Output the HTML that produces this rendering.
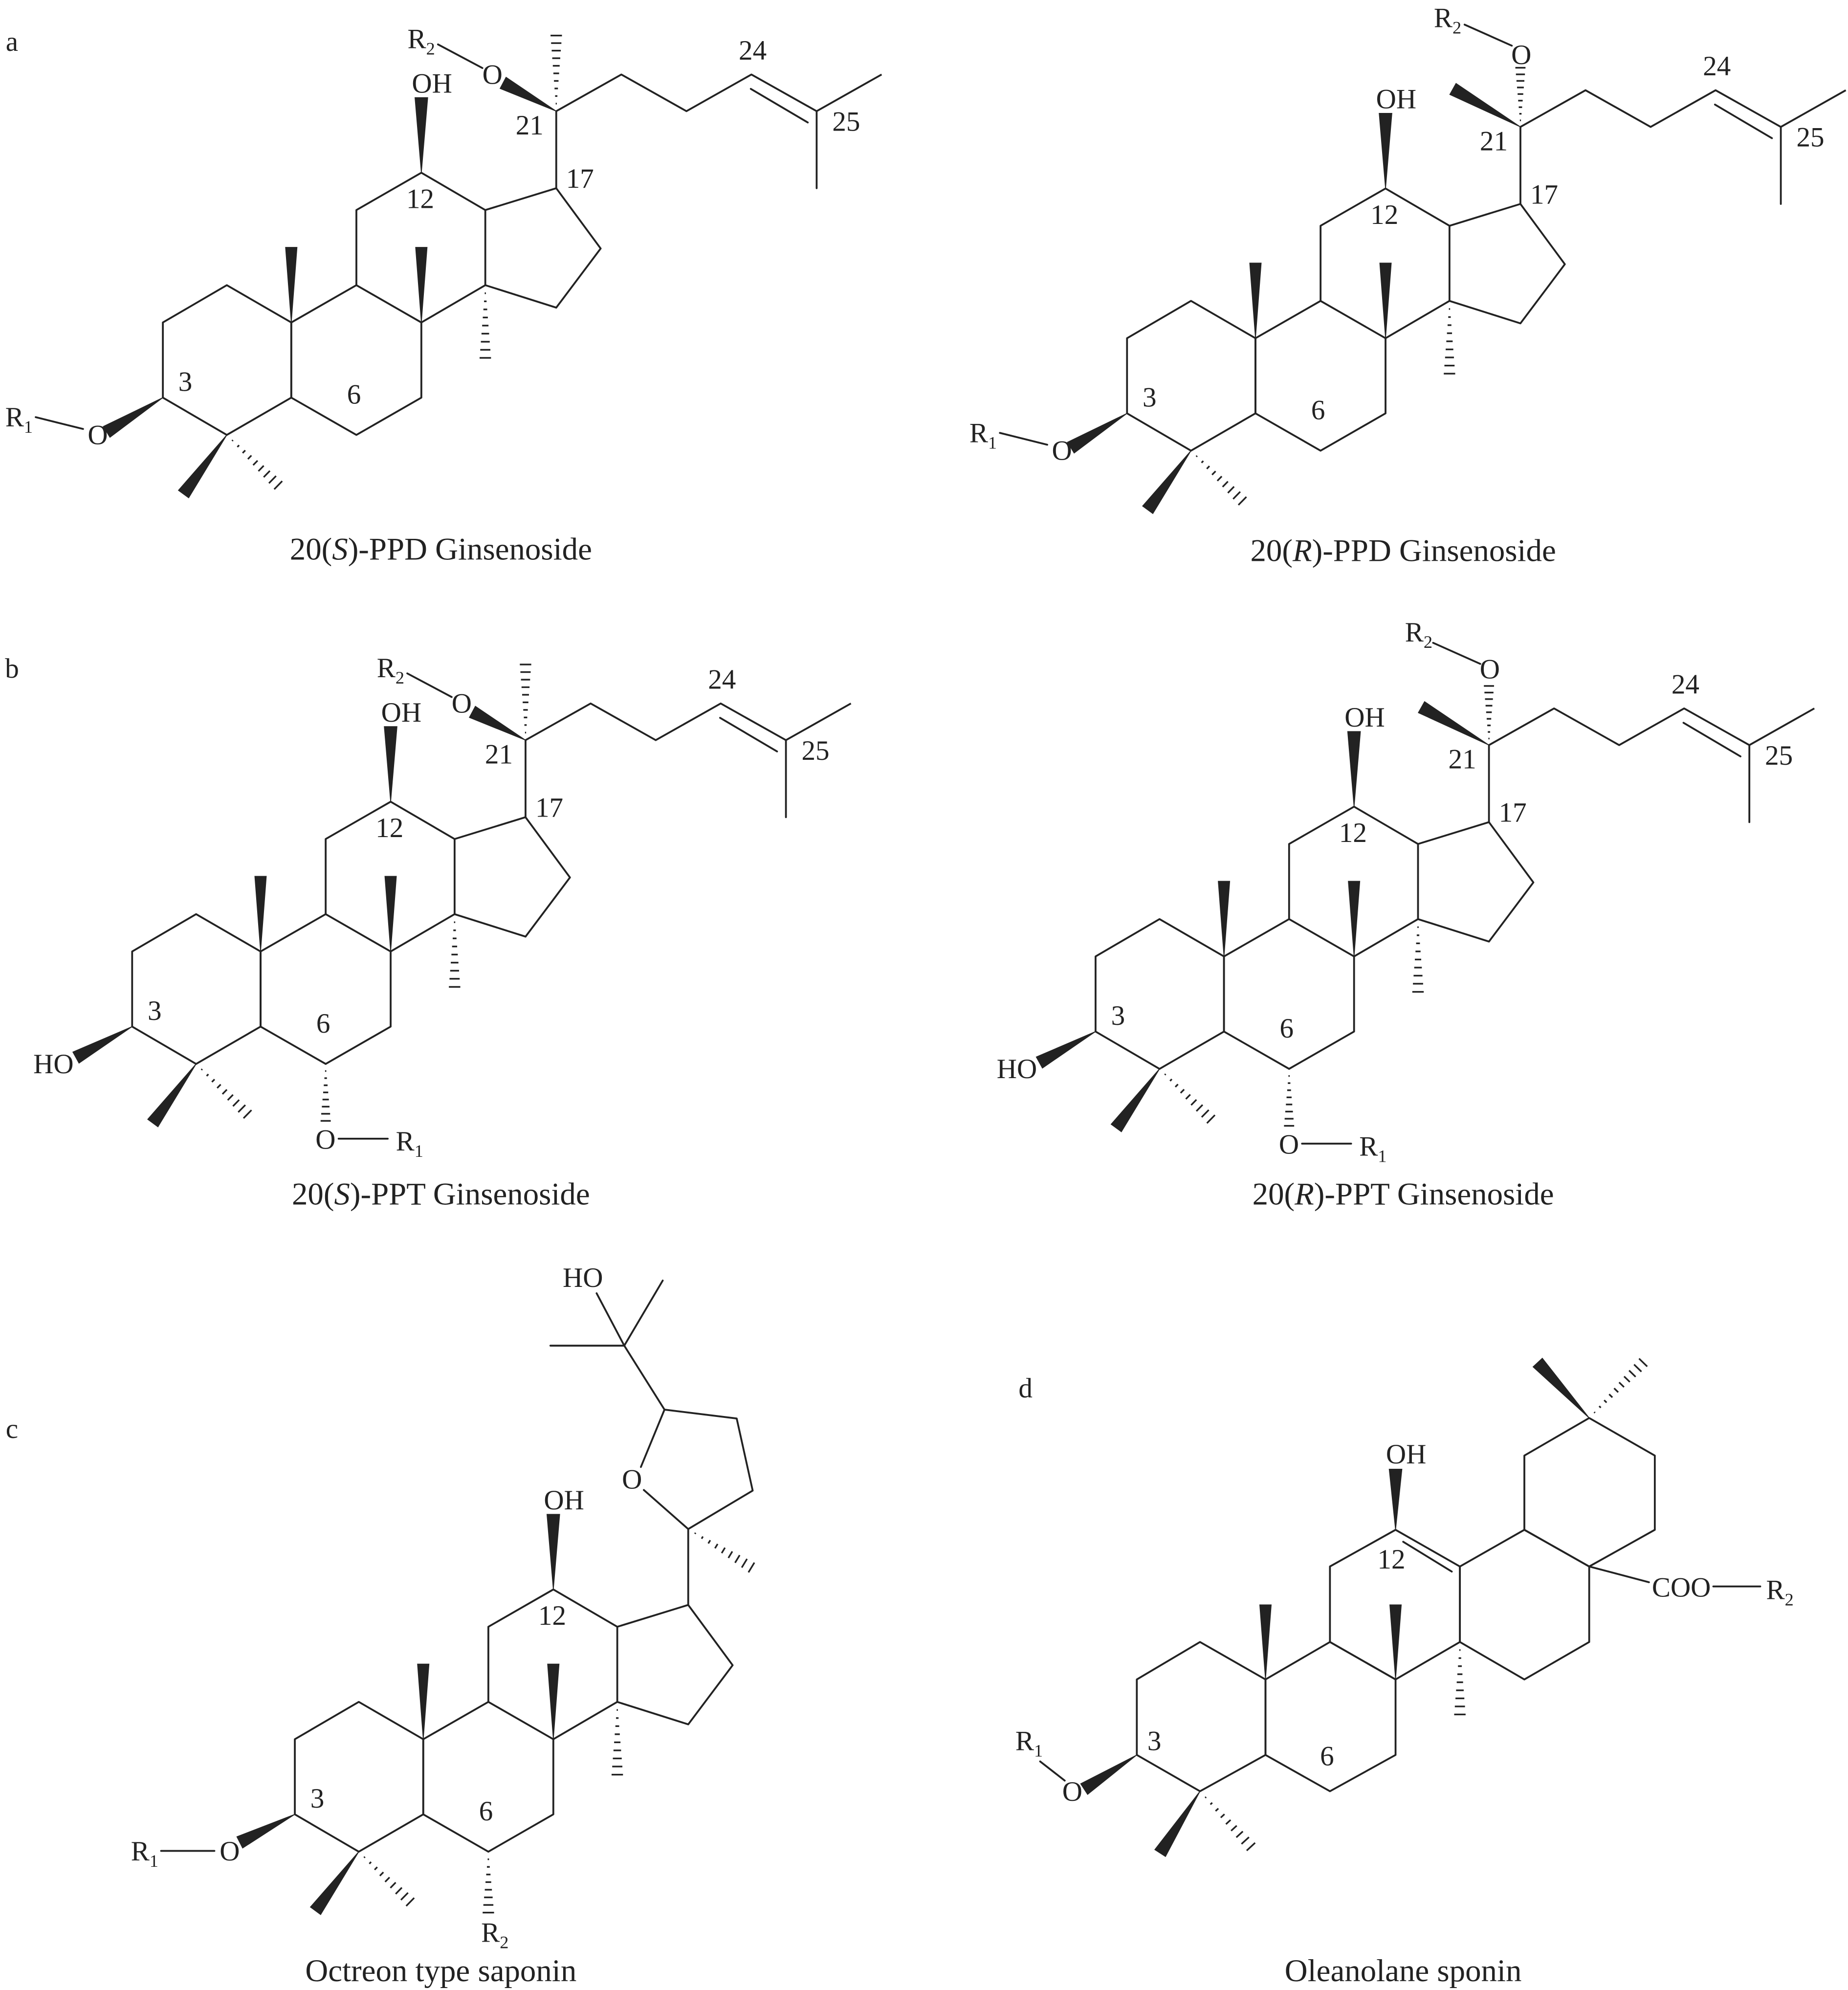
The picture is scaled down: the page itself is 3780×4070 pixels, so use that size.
<!DOCTYPE html>
<html><head><meta charset="utf-8"><style>
html,body{margin:0;padding:0;background:#fff;}
svg{display:block;}
text{font-family:"Liberation Serif","DejaVu Serif",serif;fill:#222;font-size:22px;}
.cap{font-size:25px;}
</style></head><body>
<svg id="s" xmlns="http://www.w3.org/2000/svg" width="3780" height="4070" viewBox="0 0 1456 1568">
<rect width="1456" height="1568" fill="#fff"/>
<!-- letters -->
<text x="9.3" y="40" text-anchor="middle">a</text>
<text x="9.3" y="534" text-anchor="middle">b</text>
<text x="9.3" y="1133" text-anchor="middle">c</text>
<text x="808" y="1101" text-anchor="middle">d</text>
<!-- captions -->
<text class="cap" x="347.3" y="441" text-anchor="middle">20(<tspan font-style="italic">S</tspan>)-PPD Ginsenoside</text>
<text class="cap" x="1105.6" y="442" text-anchor="middle">20(<tspan font-style="italic">R</tspan>)-PPD Ginsenoside</text>
<text class="cap" x="347.3" y="949" text-anchor="middle">20(<tspan font-style="italic">S</tspan>)-PPT Ginsenoside</text>
<text class="cap" x="1105.6" y="949" text-anchor="middle">20(<tspan font-style="italic">R</tspan>)-PPT Ginsenoside</text>
<text class="cap" x="347.3" y="1561" text-anchor="middle">Octreon type saponin</text>
<text class="cap" x="1105.6" y="1561" text-anchor="middle">Oleanolane sponin</text>

<!-- a left -->
<g id="gA" transform="translate(0,0)">
<text x="145.9" y="308" text-anchor="middle">3</text>
<text x="278.8" y="318" text-anchor="middle">6</text>
<text x="331" y="164" text-anchor="middle">12</text>
<text x="456.9" y="148" text-anchor="middle">17</text>
<text x="417.2" y="106" text-anchor="middle">21</text>
<text x="593" y="47" text-anchor="middle">24</text>
<text x="666.7" y="103" text-anchor="middle">25</text>
<text x="340.3" y="73" text-anchor="middle">OH</text>
<text x="387.9" y="66" text-anchor="middle">O</text>
<text x="321" y="38">R<tspan font-size="14" dy="5">2</tspan></text>
<text x="76.9" y="350" text-anchor="middle">O</text>
<text x="4" y="336">R<tspan font-size="14" dy="5">1</tspan></text>
</g>
<!-- a right -->
<g id="gB" transform="translate(759.8,12.4)">
<text x="145.9" y="308" text-anchor="middle">3</text>
<text x="278.8" y="318" text-anchor="middle">6</text>
<text x="331" y="164" text-anchor="middle">12</text>
<text x="456.9" y="148" text-anchor="middle">17</text>
<text x="417.2" y="106" text-anchor="middle">21</text>
<text x="593" y="47" text-anchor="middle">24</text>
<text x="666.7" y="103" text-anchor="middle">25</text>
<text x="340.3" y="73" text-anchor="middle">OH</text>
<text x="438.9" y="38" text-anchor="middle">O</text>
<text x="370" y="9">R<tspan font-size="14" dy="5">2</tspan></text>
<text x="76.9" y="350" text-anchor="middle">O</text>
<text x="4" y="336">R<tspan font-size="14" dy="5">1</tspan></text>
</g>
<!-- b left -->
<g id="gC" transform="translate(-24.2,495.6)">
<text x="145.9" y="308" text-anchor="middle">3</text>
<text x="278.8" y="318" text-anchor="middle">6</text>
<text x="331" y="164" text-anchor="middle">12</text>
<text x="456.9" y="148" text-anchor="middle">17</text>
<text x="417.2" y="106" text-anchor="middle">21</text>
<text x="593" y="47" text-anchor="middle">24</text>
<text x="666.7" y="103" text-anchor="middle">25</text>
<text x="340.3" y="73" text-anchor="middle">OH</text>
<text x="387.9" y="66" text-anchor="middle">O</text>
<text x="321" y="38">R<tspan font-size="14" dy="5">2</tspan></text>
<text x="66.2" y="350" text-anchor="middle">HO</text>
<text x="280.6" y="409.6" text-anchor="middle">O</text>
<text x="336" y="411">R<tspan font-size="14" dy="5">1</tspan></text>
</g>
<!-- b right -->
<g id="gD" transform="translate(735,499.5)">
<text x="145.9" y="308" text-anchor="middle">3</text>
<text x="278.8" y="318" text-anchor="middle">6</text>
<text x="331" y="164" text-anchor="middle">12</text>
<text x="456.9" y="148" text-anchor="middle">17</text>
<text x="417.2" y="106" text-anchor="middle">21</text>
<text x="593" y="47" text-anchor="middle">24</text>
<text x="666.7" y="103" text-anchor="middle">25</text>
<text x="340.3" y="73" text-anchor="middle">OH</text>
<text x="438.9" y="35" text-anchor="middle">O</text>
<text x="372" y="6">R<tspan font-size="14" dy="5">2</tspan></text>
<text x="66.2" y="350" text-anchor="middle">HO</text>
<text x="280.6" y="409.6" text-anchor="middle">O</text>
<text x="336" y="411">R<tspan font-size="14" dy="5">1</tspan></text>
</g>
<!-- c -->
<g id="gE" transform="translate(104,1116.3)">
<text x="145.9" y="308" text-anchor="middle">3</text>
<text x="278.8" y="318" text-anchor="middle">6</text>
<text x="331" y="164" text-anchor="middle">12</text>
<text x="340.3" y="73" text-anchor="middle">OH</text>
</g>
<g id="gF">
<text x="459.2" y="1014" text-anchor="middle">HO</text>
<text x="497.9" y="1173" text-anchor="middle">O</text>
<text x="180.9" y="1466" text-anchor="middle">O</text>
<text x="103" y="1466">R<tspan font-size="14" dy="5">1</tspan></text>
<text x="379" y="1530">R<tspan font-size="14" dy="5">2</tspan></text>
</g>
<!-- d -->
<g id="gG">
<text x="1107.9" y="1153" text-anchor="middle">OH</text>
<text x="1096.3" y="1236" text-anchor="middle">12</text>
<text x="909.5" y="1379" text-anchor="middle">3</text>
<text x="1045.6" y="1391" text-anchor="middle">6</text>
<text x="1301.6" y="1258">COO</text>
<text x="1391.6" y="1260">R<tspan font-size="14" dy="5">2</tspan></text>
<text x="844.9" y="1419" text-anchor="middle">O</text>
<text x="800" y="1379">R<tspan font-size="14" dy="5">1</tspan></text>
</g>
</svg>
<script>
(function(){
var NS='http://www.w3.org/2000/svg';
function E(g,tag,a){var e=document.createElementNS(NS,tag);for(var k in a)e.setAttribute(k,a[k]);g.insertBefore(e,g.firstChild);return e;}
var SW=1.45,COL='#222';
function L(g,a,b){E(g,'line',{x1:a[0],y1:a[1],x2:b[0],y2:b[1],stroke:COL,'stroke-width':SW,'stroke-linecap':'round'});}
function P(g,pts,close){E(g,close?'polygon':'polyline',{points:pts.map(function(p){return p.join(',')}).join(' '),fill:'none',stroke:COL,'stroke-width':SW,'stroke-linejoin':'round'});}
function W(g,a,b,w){w=w||9;var dx=b[0]-a[0],dy=b[1]-a[1],l=Math.hypot(dx,dy),nx=-dy/l*w/2,ny=dx/l*w/2;
E(g,'polygon',{points:[a,[b[0]+nx,b[1]+ny],[b[0]-nx,b[1]-ny]].map(function(p){return p.join(',')}).join(' '),fill:COL,stroke:COL,'stroke-width':0.6});}
function H(g,a,b,w,n){w=w||9;n=n||9;var dx=b[0]-a[0],dy=b[1]-a[1],l=Math.hypot(dx,dy),ux=-dy/l,uy=dx/l;
for(var i=1;i<=n;i++){var t=i/n,h=w/2*t,px=a[0]+dx*t,py=a[1]+dy*t;
E(g,'line',{x1:px+ux*h,y1:py+uy*h,x2:px-ux*h,y2:py-uy*h,stroke:COL,'stroke-width':1.3});}}
function core(g){
P(g,[[128.2,254.1],[178.6,224.7],[229.4,254.1],[229.4,313.3],[178.6,342.7],[128.2,313.3]],true);
P(g,[[229.4,254.1],[280.7,224.7],[331.9,254.1],[331.9,313.3],[280.7,342.7],[229.4,313.3]],true);
P(g,[[280.7,224.7],[280.7,165.5],[331.9,136.1],[382.3,165.5],[382.3,224.7],[331.9,254.1]],false);
P(g,[[382.3,165.5],[438.2,148.3],[473.2,195.8],[438.2,242.4],[382.3,224.7]],false);
W(g,[331.9,136.1],[331.9,76.9],10);
W(g,[229.4,254.1],[229.4,194.9],9);
W(g,[331.9,254.1],[331.9,194.9],9);
W(g,[178.6,342.7],[144.5,389.3],10);
H(g,[382.3,224.7],[382.3,282],9,9);
H(g,[178.6,342.7],[219.1,382.3],9,9);
}
function chain(g){
L(g,[438.2,148.3],[438.2,87.6]);
P(g,[[438.2,87.6],[489.5,58.7],[540.8,87.6],[592,58.7],[643.4,87.6],[694.6,58.7]],false);
L(g,[643.4,87.6],[643.4,148.3]);
L(g,[591.5,70],[636.4,96.5]);
}
function S20(g){H(g,[438.2,87.6],[438.2,28],9,10);W(g,[438.2,87.6],[396.3,65.3],10);L(g,[345,35],[380,53.6]);}
function R20(g){H(g,[438.2,87.6],[438.2,41],8,9);W(g,[438.2,87.6],[385,57.7],10);L(g,[394.2,7],[431.4,23.6]);}
function ppt(g){W(g,[128.2,313.3],[83.9,337.7],10);H(g,[280.7,342.7],[280.7,387.6],8,8);L(g,[290.9,401.6],[329.6,401.6]);}
function ppd(g){W(g,[128.2,313.3],[83.9,340.3],10);L(g,[28,328.7],[65.3,338]);}
var gA=document.getElementById('gA'),gB=document.getElementById('gB'),gC=document.getElementById('gC'),gD=document.getElementById('gD'),gE=document.getElementById('gE'),gF=document.getElementById('gF'),gG=document.getElementById('gG');
core(gA);chain(gA);S20(gA);ppd(gA);
core(gB);chain(gB);R20(gB);ppd(gB);
core(gC);chain(gC);S20(gC);ppt(gC);
core(gD);chain(gD);R20(gD);ppt(gD);
core(gE);
// c specific
L(gF,[542.2,1264.6],[542.2,1204.8]);L(gF,[542.2,1204.8],[507.2,1174]);L(gF,[504.9,1155.9],[523.5,1110.7]);
P(gF,[[523.5,1110.7],[580.4,1117.7],[593,1174.5],[542.2,1204.8]],false);
L(gF,[523.5,1110.7],[491.8,1060.3]);L(gF,[491.8,1060.3],[433.6,1060.3]);L(gF,[491.8,1060.3],[522.1,1009]);L(gF,[491.8,1060.3],[470,1019]);
H(gF,[542.2,1204.8],[592,1235.1],9,9);
W(gF,[232.2,1429.6],[188.8,1451.7],10);L(gF,[126.8,1458.4],[168.8,1458.4]);
H(gF,[384.7,1459],[384.7,1507],9,8);
// d
P(gG,[[895.7,1323.3],[945.5,1293.8],[997.1,1323.3],[997.1,1382.8],[945.5,1411.4],[895.7,1382.8]],true);
P(gG,[[997.1,1323.3],[1047.9,1293.8],[1099.6,1323.3],[1099.6,1382.8],[1047.9,1411.4],[997.1,1382.8]],true);
P(gG,[[1047.9,1293.8],[1047.9,1234.3],[1099.6,1205.4],[1150.3,1234.3],[1150.3,1293.8],[1099.6,1323.3]],true);
P(gG,[[1150.3,1234.3],[1201.1,1205.4],[1252.2,1234.3],[1252.2,1293.8],[1201.1,1323.3],[1150.3,1293.8]],true);
P(gG,[[1201.1,1205.4],[1201.1,1146.9],[1252.2,1117.3],[1303.9,1146.9],[1303.9,1205.4],[1252.2,1234.3]],true);
L(gG,[1105.6,1214.8],[1143.9,1238.3]);
W(gG,[1099.6,1205.4],[1099.6,1157.6],10);W(gG,[997.1,1323.3],[997.1,1264.5],9);W(gG,[1099.6,1323.3],[1099.6,1264.5],9);
W(gG,[1252.2,1117.3],[1211.6,1073.6],10);W(gG,[895.7,1382.8],[854.2,1409.7],10);W(gG,[945.5,1411.4],[914.1,1460.1],10);
H(gG,[1150.3,1293.8],[1150.3,1350.9],9,9);H(gG,[1252.2,1117.3],[1294.7,1073.6],9,10);H(gG,[945.5,1411.4],[985.6,1455.1],9,9);
L(gG,[1252.2,1234.3],[1299.3,1246.7]);L(gG,[1350,1250],[1387,1250]);L(gG,[819.5,1387.9],[838.9,1403]);
})();
</script>
</body></html>
